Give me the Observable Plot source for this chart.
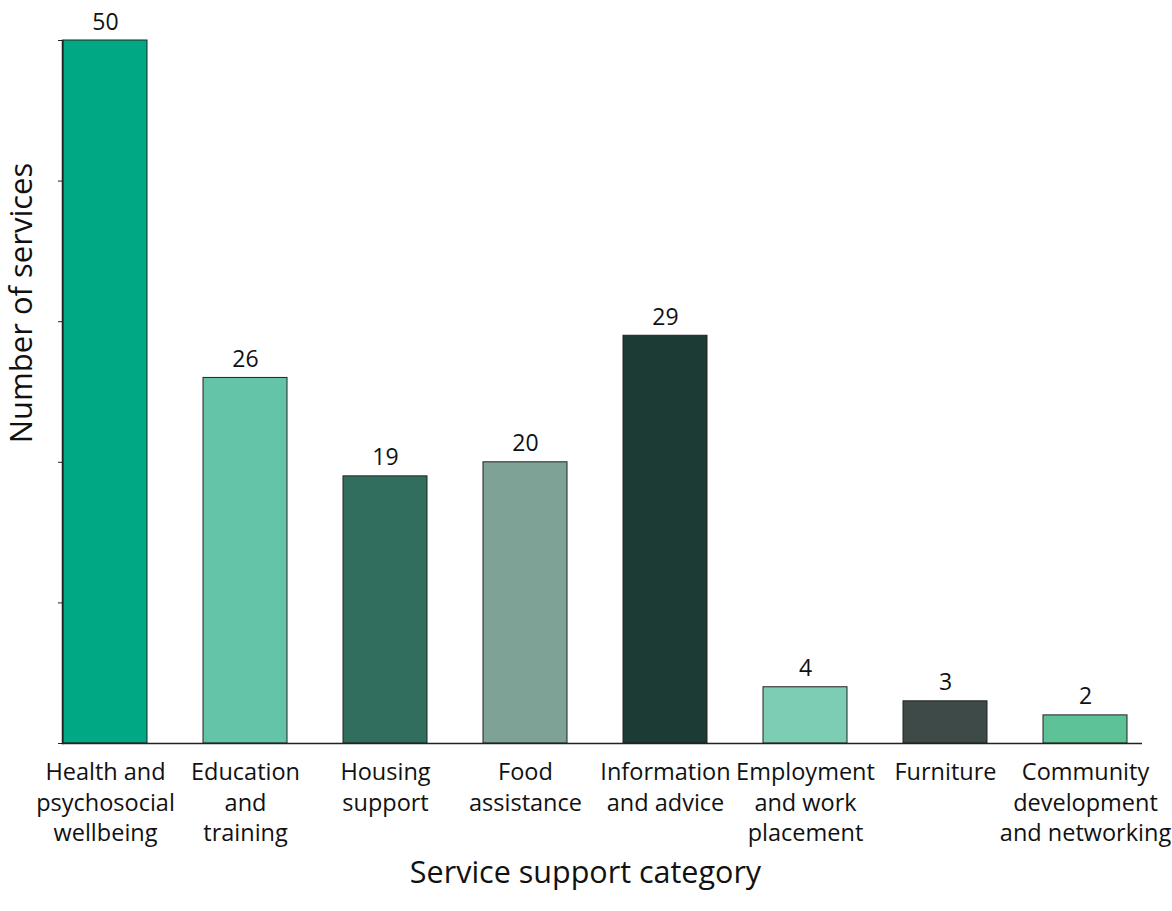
<!DOCTYPE html>
<html>
<head>
<meta charset="utf-8">
<script src="https://cdn.jsdelivr.net/npm/d3@7"></script>
<script src="https://cdn.jsdelivr.net/npm/@observablehq/plot@0.6"></script>
<style>
  body { margin: 0; background: #fff; }
  #chart svg { display: block; }
</style>
</head>
<body>
<div id="chart"></div>
<script>
const categories = [
  "Health and psychosocial wellbeing",
  "Education and training",
  "Housing support",
  "Food assistance",
  "Information and advice",
  "Employment and work placement",
  "Furniture",
  "Community development and networking"
];
const tickLabels = [
  "Health and\npsychosocial\nwellbeing",
  "Education\nand\ntraining",
  "Housing\nsupport",
  "Food\nassistance",
  "Information\nand advice",
  "Employment\nand work\nplacement",
  "Furniture",
  "Community\ndevelopment\nand networking"
];
const values = [50, 26, 19, 20, 29, 4, 3, 2];
const colors = ["#00a884", "#63c4a8", "#316e5e", "#7ea396", "#1c3b34", "#7dcdb5", "#3d4a47", "#5ec297"];
const yTicks = [0, 10, 20, 30, 40, 50];

const data = categories.map((c, i) => ({category: c, value: values[i], color: colors[i], label: tickLabels[i]}));
const labelOf = new Map(data.map(d => [d.category, d.label]));

const font = "'Open Sans', sans-serif";

const chart = Plot.plot({
  width: 1172,
  height: 911,
  marginTop: 40,
  marginBottom: 168,
  marginLeft: 62,
  marginRight: 30,
  style: {fontFamily: font, color: "#111", background: "#fff"},
  x: {domain: categories, range: [63, 1127], paddingInner: 0.4, paddingOuter: 0, label: null},
  y: {domain: [0, 50], label: null},
  marks: [
    Plot.barY(data, {x: "category", y: "value", fill: "color", stroke: "#222", strokeWidth: 1}),
    Plot.text(data, {x: "category", y: "value", text: d => String(d.value), dy: -11, lineAnchor: "bottom", fontSize: 23, fill: "#111"}),
    Plot.axisX({tickSize: 0, tickPadding: 15, fontSize: 23.5, lineHeight: 1.3, tickFormat: c => labelOf.get(c), label: null, textAnchor: "middle", fill: "#111"}),
    Plot.axisY({ticks: yTicks, tickSize: 4, tickFormat: () => "", label: null, stroke: "#222"}),
    Plot.ruleY([0], {stroke: "#222", strokeWidth: 1.5}),
    Plot.frame({anchor: "left", stroke: "#222", strokeWidth: 1.5}),
    Plot.text(["Service support category"], {frameAnchor: "bottom", dx: -17, dy: 139, fontSize: 30.5, fill: "#111"}),
    Plot.text(["Number of services"], {frameAnchor: "left", textAnchor: "middle", rotate: -90, dx: -40, dy: -89, fontSize: 31, fill: "#111"})
  ]
});
document.getElementById("chart").appendChild(chart);
</script>
</body>
</html>
